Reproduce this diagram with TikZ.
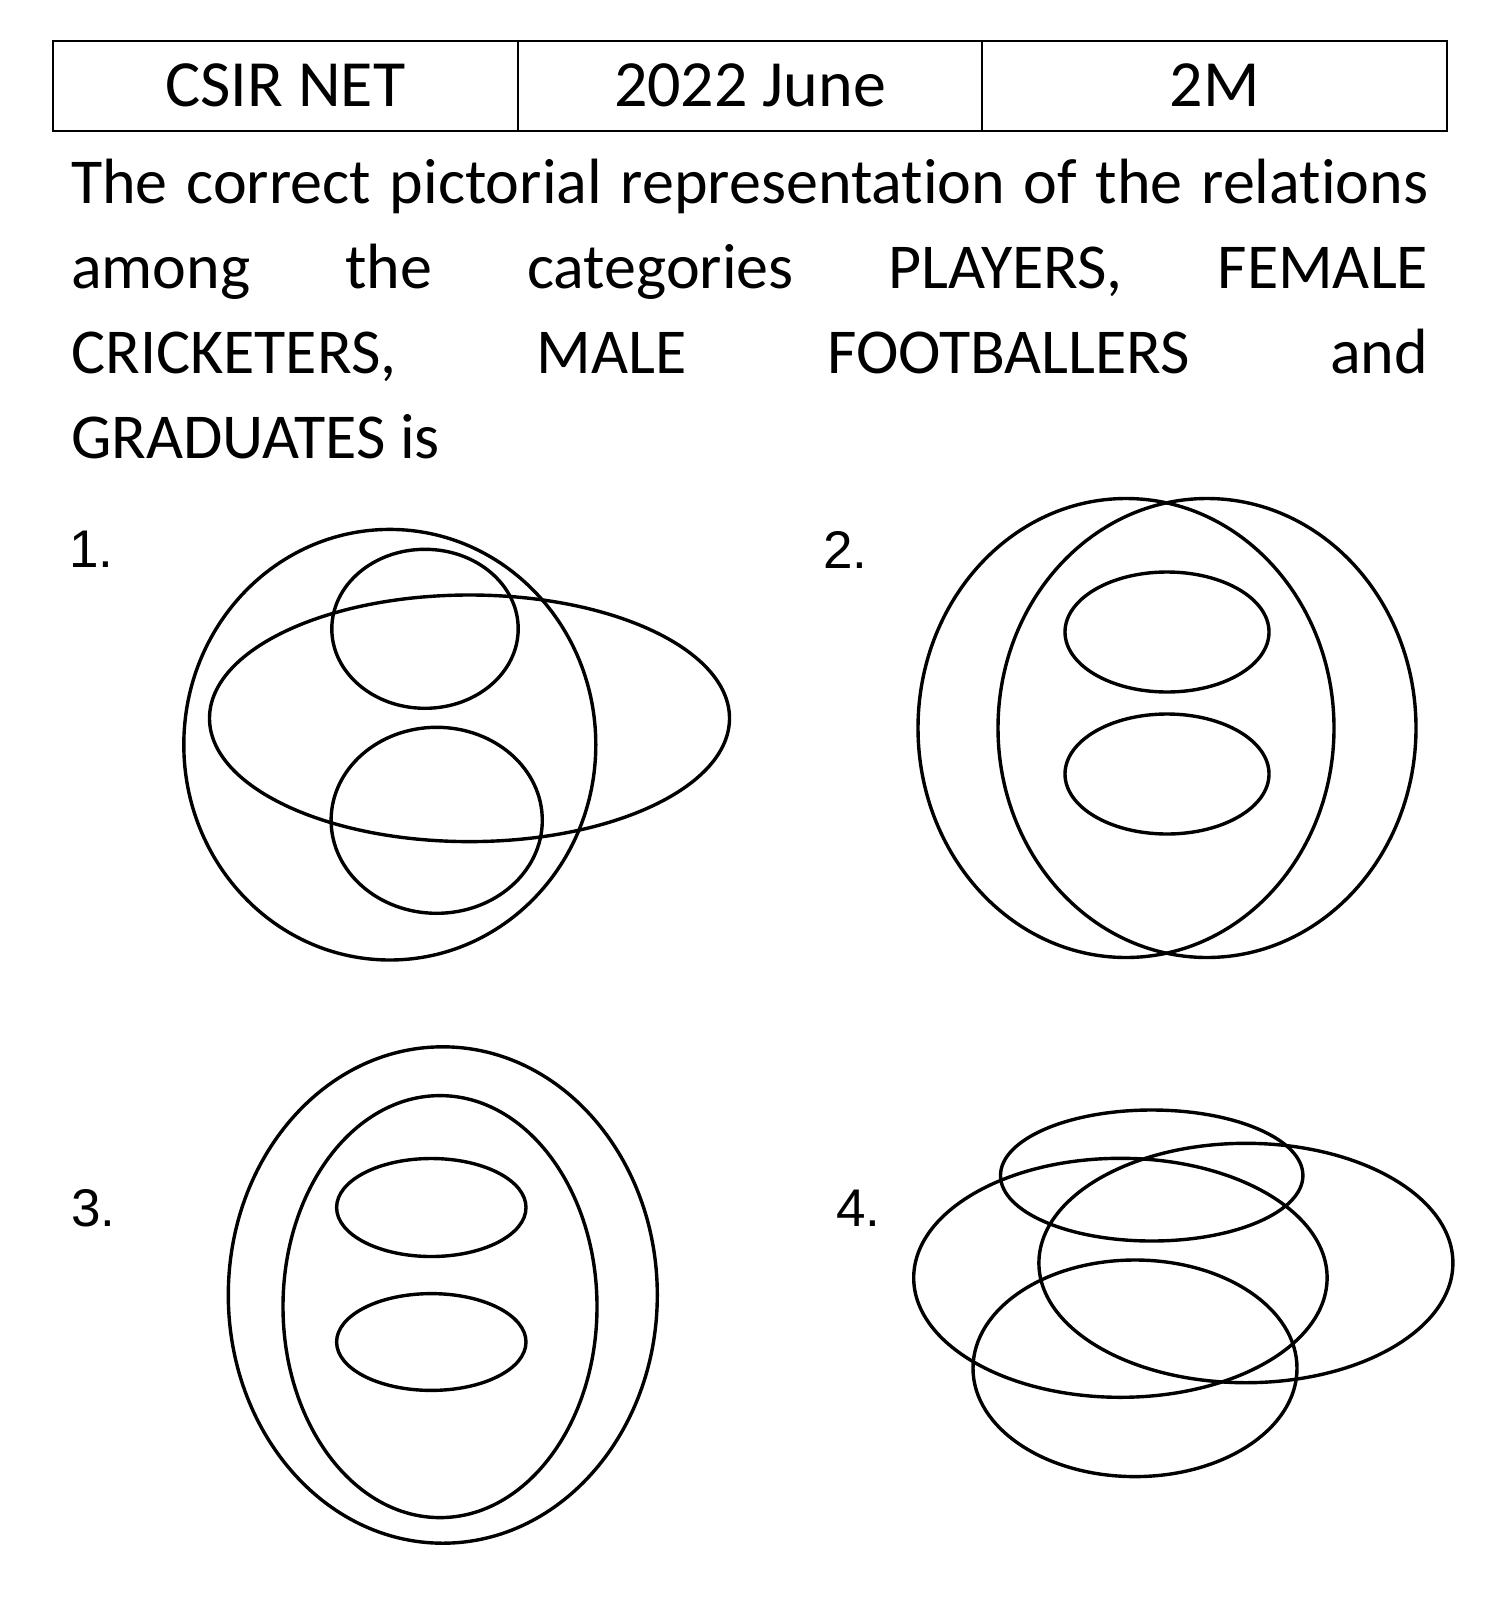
\documentclass[tikz,border=0pt]{standalone}
\usepackage{fontspec}
\setmainfont[Ligatures=NoCommon]{Carlito}
\newfontfamily\optfont{Liberation Sans}
\usetikzlibrary{positioning}

\begin{document}
\begin{tikzpicture}[
  x=1pt, y=-1pt,
  cell/.style={rectangle, draw, line width=1.8pt, outer sep=0pt, inner sep=0pt, minimum width=464.7pt, minimum height=90pt, text height=42pt, text depth=0pt, font=\fontsize{66}{78}\selectfont},
  qline/.style={anchor=base west, inner sep=0pt, font=\fontsize{64}{76}\selectfont},
  optnum/.style={anchor=base west, inner sep=0pt, font=\optfont\fontsize{53}{60}\selectfont},
  venn/.style={line width=3.4pt}
]
  % Page
  \fill[white] (0,0) rectangle (1501,1600);
  \useasboundingbox (0,0) rectangle (1501,1600);
  % Header table
  \node[cell] (exam) at (285.3,86) {CSIR NET};
  \node[cell, right=0pt of exam] (year) {2022 June};
  \node[cell, right=0pt of year] (marks) {2M};
  % Question text
  \node[qline] (q1) at (71,203) {\makebox[1357pt][s]{The correct pictorial representation of the relations}};
  \node[qline] (q2) at (71,288) {\makebox[1357pt][s]{among the categories PLAYERS, FEMALE}};
  \node[qline] (q3) at (71,373) {\makebox[1357pt][s]{CRICKETERS, MALE FOOTBALLERS and}};
  \node[qline] (q4) at (71,458) {GRADUATES is};
  % Option numbers
  \node[optnum] (opt1) at (69,567) {1.};
  \node[optnum] (opt2) at (823,568) {2.};
  \node[optnum] (opt3) at (71,1226) {3.};
  \node[optnum] (opt4) at (836,1226) {4.};
  % Option 1
  \draw[venn] (389.8,744.7) ellipse [x radius=206pt, y radius=215.3pt];
  \draw[venn] (469.5,718.3) ellipse [x radius=260pt, y radius=123.3pt];
  \draw[venn] (425,628.8) ellipse [x radius=93.2pt, y radius=79.5pt];
  \draw[venn] (436.7,820.3) ellipse [x radius=105.6pt, y radius=93pt];
  % Option 2
  \draw[venn] (1126,728) ellipse [x radius=208pt, y radius=229.5pt];
  \draw[venn] (1207,728) ellipse [x radius=209pt, y radius=229.5pt];
  \draw[venn] (1167,632) ellipse [x radius=102pt, y radius=60pt];
  \draw[venn] (1167,774) ellipse [x radius=102pt, y radius=60pt];
  % Option 3
  \draw[venn] (442.8,1295) ellipse [x radius=214.5pt, y radius=248.2pt];
  \draw[venn] (440,1306.6) ellipse [x radius=157pt, y radius=211pt];
  \draw[venn] (431.3,1207.5) ellipse [x radius=94.7pt, y radius=49pt];
  \draw[venn] (431.3,1342) ellipse [x radius=94.7pt, y radius=48.4pt];
  % Option 4
  \draw[venn] (1151.7,1175.5) ellipse [x radius=151.2pt, y radius=65.5pt];
  \draw[venn] (1120.4,1277.8) ellipse [x radius=206.7pt, y radius=119.5pt];
  \draw[venn] (1245.9,1263) ellipse [x radius=207pt, y radius=119.7pt];
  \draw[venn] (1135,1368.3) ellipse [x radius=162pt, y radius=108.3pt];
\end{tikzpicture}
\end{document}
